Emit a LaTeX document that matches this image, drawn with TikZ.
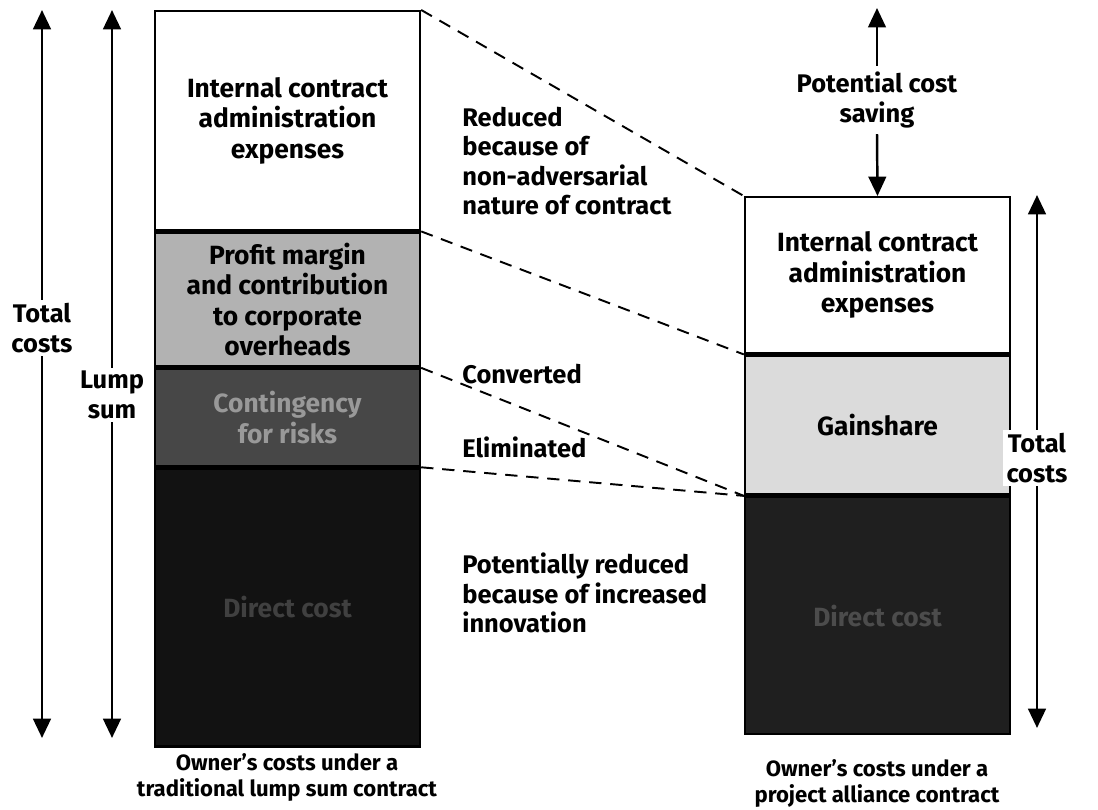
\documentclass[tikz,border=0pt]{standalone}
\usepackage{fontspec}
\setmainfont{Fira Sans}
\usetikzlibrary{arrows.meta,positioning}

\begin{document}
\begin{tikzpicture}[x=0.02cm, y=-0.02cm, >={Triangle[length=11pt,width=10pt]},
    font=\bfseries\fontsize{14.5}{16.8}\selectfont,
    bar/.style={draw, line width=1.4pt, minimum width=5.3cm, inner sep=0pt, align=center, anchor=north,
        font=\bfseries\fontsize{15}{17.3}\selectfont},
    dimarrow/.style={<->, line width=1.6pt},
    gaplabel/.style={fill=white, inner sep=2pt, align=center},
    note/.style={anchor=west, align=left, inner sep=0pt},
    caption/.style={align=center, font=\bfseries\fontsize{12.6}{14.8}\selectfont},
    link/.style={dashed, line width=1.1pt, dash pattern=on 7pt off 5pt}]
    \useasboundingbox (0,0) rectangle (1098,810);

    % traditional lump sum contract
    \node[bar, minimum height=4.38cm, fill=white] (ICA) at (287.5,10) {Internal contract\\administration\\expenses};
    \node[bar, minimum height=2.68cm, fill=black!30, below=0pt of ICA] (PM) {Profit margin\\and contribution\\to corporate\\overheads};
    \node[bar, minimum height=1.94cm, fill=black!72, text=black!40, below=0pt of PM] (CR) {Contingency\\for risks};
    \node[bar, minimum height=5.56cm, fill=black!93, text=black!75, below=0pt of CR] (DC) {Direct cost};

    % project alliance contract
    \node[bar, minimum height=3.12cm, fill=white] (ICB) at (877.5,196) {Internal contract\\administration\\expenses};
    \node[bar, minimum height=2.78cm, fill=black!14, below=0pt of ICB] (GS) {Gainshare};
    \node[bar, minimum height=4.74cm, fill=black!88, text=black!70, below=0pt of GS] (DCB) {Direct cost};

    \draw[link] (ICA.north east) -- (ICB.north west);
    \draw[link] (PM.north east) -- (GS.north west);
    \draw[link] (CR.north east) -- (DCB.north west);
    \draw[link] (DC.north east) -- (DCB.north west);

    % dimension arrows
    \coordinate (TLt) at (42,10);  \coordinate (TLb) at (42,738);
    \coordinate (LSt) at (112,10); \coordinate (LSb) at (112,738);
    \coordinate (TRt) at (1037,195); \coordinate (TRb) at (1037,728);
    \draw[dimarrow] (TLt) -- (TLb);
    \draw[dimarrow] (LSt) -- (LSb);
    \draw[dimarrow] (TRt) -- (TRb);
    \node[gaplabel] (TLlab) at (42,328) {Total\\costs};
    \node[gaplabel] (LSlab) at (112,395) {Lump\\sum};
    \node[gaplabel] (TRlab) at (1037,458) {Total\\costs};

    \node[align=center] (PCS) at (877,100) {Potential cost\\saving};
    \coordinate (PCSt) at (877,8);
    \draw[->, line width=1.4pt] (PCS.north) -- (PCSt);
    \draw[->, line width=1.4pt] (PCS.south) -- (ICB.north);

    % notes between the bars
    \node[note] (Nred) at (462,161) {Reduced\\because of\\non-adversarial\\nature of contract};
    \node[note] (Nconv) at (462,374) {Converted};
    \node[note] (Nelim) at (462,447) {Eliminated};
    \node[note] (Ninn) at (462,593) {Potentially reduced\\because of increased\\innovation};

    \node[caption] (capA) at (287,777) {Owner's costs under a\\traditional lump sum contract};
    \node[caption] (capB) at (877,783) {Owner's costs under a\\project alliance contract};
\end{tikzpicture}
\end{document}
